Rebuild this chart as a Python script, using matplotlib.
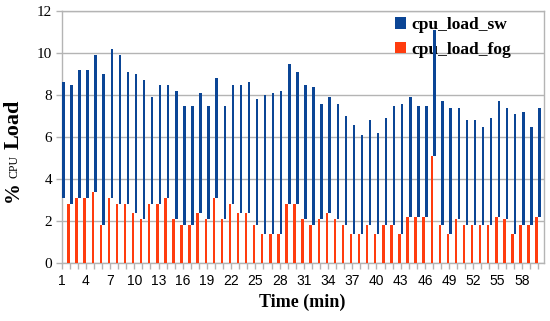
import matplotlib
matplotlib.use("Agg")
import matplotlib.pyplot as plt
import numpy as np

# minutes 1..60
minutes = list(range(1, 61))
cpu_load_fog = [3.1, 2.8, 3.1, 3.1, 3.4, 1.8, 3.1, 2.8, 2.8, 2.4,
                2.1, 2.8, 2.8, 3.1, 2.1, 1.8, 1.8, 2.4, 2.1, 3.1,
                2.1, 2.8, 2.4, 2.4, 1.8, 1.4, 1.4, 1.4, 2.8, 2.8,
                2.1, 1.8, 2.1, 2.4, 2.1, 1.8, 1.4, 1.4, 1.8, 1.4,
                1.8, 1.8, 1.4, 2.2, 2.2, 2.2, 5.1, 1.8, 1.4, 2.1,
                1.8, 1.8, 1.8, 1.8, 2.2, 2.1, 1.4, 1.8, 1.8, 2.2]
cpu_load_sw = [8.6, 8.5, 9.2, 9.2, 9.9, 9.0, 10.2, 9.9, 9.1, 9.0,
               8.7, 7.9, 8.5, 8.5, 8.2, 7.5, 7.5, 8.1, 7.5, 8.8,
               7.5, 8.5, 8.5, 8.6, 7.8, 8.0, 8.1, 8.2, 9.5, 9.1,
               8.5, 8.4, 7.6, 7.9, 7.6, 7.0, 6.6, 6.1, 6.8, 6.2,
               6.9, 7.5, 7.6, 7.9, 7.5, 7.5, 11.1, 7.7, 7.4, 7.4,
               6.8, 6.8, 6.5, 6.9, 7.7, 7.4, 7.1, 7.2, 6.5, 7.4]
tick_minutes = list(range(1, 59, 3))
y_ticks = [0, 2, 4, 6, 8, 10, 12]

blue = '#0b4595'
orange = '#ff3c0e'
grey = '#b4b4b4'
serif = ['Liberation Serif', 'DejaVu Serif']
sans = ['Liberation Sans', 'DejaVu Sans']

fig = plt.figure(figsize=(5.5, 3.21), dpi=100)
ax = fig.add_axes([0.1122, 0.1797, 0.8760, 0.7860])

x = np.array(minutes)
fog = np.array(cpu_load_fog)
sw = np.array(cpu_load_sw)

# fog bars sit left of the tick, sw bars float on top of them
ax.bar(x - 0.15, fog, width=0.3, color=orange, label='cpu_load_fog', zorder=3)
ax.bar(x + 0.2, sw - fog, bottom=fog, width=0.3, color=blue, label='cpu_load_sw', zorder=3)

ax.set_xlim(1, 60.7)
ax.set_ylim(0, 12)
ax.set_yticks(y_ticks)
ax.set_xticks(tick_minutes)
ax.set_xticks(minutes, minor=True)
ax.set_xticklabels([str(m) for m in tick_minutes], family=sans, fontsize=10)
ax.set_yticklabels([str(v) for v in y_ticks], family=serif, fontsize=11)
ax.tick_params(axis='both', which='both', color=grey, length=4, width=1)
ax.tick_params(axis='x', pad=4)
ax.tick_params(axis='y', pad=3)

ax.grid(axis='y', color=grey, linewidth=1, zorder=0)
ax.set_axisbelow(True)
for s in ax.spines.values():
    s.set_color(grey)
    s.set_linewidth(1)

ax.set_xlabel('Time (min)', family=serif, fontweight='bold', fontsize=13, labelpad=4)

# y label: "%", small caps "CPU", "Load"
fig.text(0.024, 0.402, '%', rotation=90, family=serif, fontweight='bold',
         fontsize=15, ha='center', va='center')
fig.text(0.026, 0.480, 'CPU', rotation=90, family=serif,
         fontsize=8.5, ha='center', va='center')
fig.text(0.024, 0.614, 'Load', rotation=90, family=serif, fontweight='bold',
         fontsize=16, ha='center', va='center')

handles, labels = ax.get_legend_handles_labels()
leg = ax.legend(handles[::-1], labels[::-1], loc='upper right', frameon=False,
                prop={'family': serif, 'weight': 'bold', 'size': 12.5},
                handlelength=0.6, handleheight=0.6, handletextpad=0.3,
                labelspacing=0.5, bbox_to_anchor=(0.957, 1.024), borderaxespad=0.3)
leg.set_zorder(1)

fig.savefig('out.png', dpi=100)
